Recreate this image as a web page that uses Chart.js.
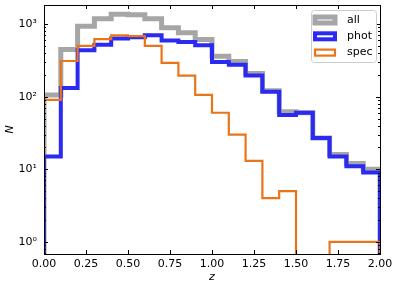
<!DOCTYPE html>
<html lang="en">
<head>
    <meta charset="UTF-8">
    <title>Redshift distribution</title>
    <script src="https://cdn.jsdelivr.net/npm/chart.js"></script>
    <style>
        body {
            margin: 0;
            background-color: #fff;
        }
    </style>
</head>
<body>
    <canvas id="zHist" width="397" height="286"></canvas>

    <script>
        // bin edges in z (20 bins)
        const zEdges = [0.0, 0.1, 0.2, 0.3, 0.4, 0.5, 0.6, 0.7, 0.8, 0.9, 1.0,
                        1.1, 1.2, 1.3, 1.4, 1.5, 1.6, 1.7, 1.8, 1.9, 2.0];

        // counts per bin
        const allCounts  = [105, 445, 930, 1180, 1360, 1340, 1180, 890, 760, 615,
                            360, 305, 208, 121, 62, 60, 27, 16, 12, 10];
        const photCounts = [15, 132, 435, 520, 630, 660, 700, 595, 565, 510,
                            300, 275, 195, 117, 56, 60, 27, 15, 11, 9];
        const specCounts = [90, 310, 500, 620, 700, 680, 500, 292, 195, 106,
                            60, 30, 13, 4, 5, 0, 0, 1, 1, 1];

        const xTickValues = [0, 0.25, 0.5, 0.75, 1.0, 1.25, 1.5, 1.75, 2.0];
        const yTickValues = [1, 10, 100, 1000];

        const FONT = 'DejaVu Sans';
        const SUP = { '0': '⁰', '1': '¹', '2': '²', '3': '³' };
        // empty bins are sent below the axis so they fall out of view (as in a log plot)
        const BELOW_AXIS = 0.1;

        // outline of a step histogram: up from the floor at the first edge, down at the last
        function stepOutline(counts) {
            const pts = [{ x: zEdges[0], y: BELOW_AXIS }];
            counts.forEach((c, i) => {
                pts.push({ x: zEdges[i], y: c > 0 ? c : BELOW_AXIS });
            });
            const last = counts[counts.length - 1];
            pts.push({ x: zEdges[zEdges.length - 1], y: last > 0 ? last : BELOW_AXIS });
            pts.push({ x: zEdges[zEdges.length - 1], y: BELOW_AXIS });
            return pts;
        }

        function histSet(label, counts, color, width, order) {
            return {
                label: label,
                data: stepOutline(counts),
                borderColor: color,
                borderWidth: width,
                stepped: 'before',
                pointRadius: 0,
                fill: false,
                borderJoinStyle: 'miter',
                borderCapStyle: 'butt',
                clip: 0,
                order: order
            };
        }

        // black frame with inward ticks on all four sides
        const frameTicks = {
            id: 'frameTicks',
            afterDatasetsDraw(chart) {
                const { ctx, chartArea: a, scales: { x, y } } = chart;
                ctx.save();
                ctx.strokeStyle = '#000';
                ctx.lineWidth = 1;
                ctx.beginPath();
                xTickValues.forEach(v => {
                    const px = Math.round(x.getPixelForValue(v)) + 0.5;
                    ctx.moveTo(px, a.bottom); ctx.lineTo(px, a.bottom - 4);
                    ctx.moveTo(px, a.top); ctx.lineTo(px, a.top + 4);
                });
                [0.1, 1, 10, 100, 1000].forEach(d => {
                    for (let m = 1; m <= 9; m++) {
                        const v = m * d;
                        if (v < y.min || v > y.max) continue;
                        const len = m === 1 ? 4 : 2;
                        const py = Math.round(y.getPixelForValue(v)) + 0.5;
                        ctx.moveTo(a.left, py); ctx.lineTo(a.left + len, py);
                        ctx.moveTo(a.right, py); ctx.lineTo(a.right - len, py);
                    }
                });
                ctx.stroke();
                ctx.strokeRect(Math.round(a.left) + 0.5, Math.round(a.top) + 0.5,
                               Math.round(a.right - a.left), Math.round(a.bottom - a.top));
                ctx.restore();
            }
        };

        // legend box in the upper right corner of the axes
        const cornerLegend = {
            id: 'cornerLegend',
            afterDraw(chart) {
                const { ctx, chartArea: a } = chart;
                const boxX = a.right - 69, boxY = a.top + 5, boxW = 65, boxH = 52;
                ctx.save();
                ctx.fillStyle = 'rgba(255,255,255,0.8)';
                ctx.strokeStyle = '#cccccc';
                ctx.lineWidth = 1;
                ctx.beginPath();
                ctx.roundRect(boxX + 0.5, boxY + 0.5, boxW, boxH, 3);
                ctx.fill();
                ctx.stroke();
                ctx.font = '11px "' + FONT + '"';
                ctx.textBaseline = 'middle';
                ctx.fillStyle = '#000';
                chart.data.datasets.forEach((ds, i) => {
                    const cy = boxY + 10 + i * 16.3;
                    ctx.strokeStyle = ds.borderColor;
                    ctx.lineWidth = ds.borderWidth;
                    ctx.lineJoin = 'miter';
                    ctx.strokeRect(boxX + 4, cy - 3, 20, 6);
                    ctx.fillText(ds.label, boxX + 36, cy);
                });
                ctx.restore();
            }
        };

        const ctx = document.getElementById('zHist').getContext('2d');
        const chart = new Chart(ctx, {
            type: 'line',
            data: {
                datasets: [
                    histSet('all', allCounts, '#a6a6a6', 5, 3),
                    histSet('phot', photCounts, '#2a2af2', 4, 2),
                    histSet('spec', specCounts, '#e8751a', 2.2, 1)
                ]
            },
            options: {
                responsive: false,
                animation: false,
                layout: { padding: { top: 5, right: 17, left: 0, bottom: 0 } },
                plugins: {
                    legend: { display: false },
                    tooltip: { enabled: false }
                },
                scales: {
                    x: {
                        type: 'linear',
                        min: 0,
                        max: 2,
                        afterBuildTicks: s => { s.ticks = xTickValues.map(v => ({ value: v })); },
                        afterFit: s => { s.height = 32; s.paddingLeft = 0; s.paddingRight = 0; },
                        grid: { display: false, drawTicks: false },
                        border: { display: false },
                        ticks: {
                            color: '#000',
                            font: { family: FONT, size: 11 },
                            padding: 4,
                            maxRotation: 0,
                            autoSkip: false,
                            callback: v => Number(v).toFixed(2)
                        },
                        title: {
                            display: true,
                            text: 'z',
                            color: '#000',
                            font: { family: FONT, size: 11, style: 'italic' },
                            padding: { top: 0, bottom: 2 }
                        }
                    },
                    y: {
                        type: 'logarithmic',
                        min: 0.68,
                        max: 1830,
                        afterBuildTicks: s => { s.ticks = yTickValues.map(v => ({ value: v })); },
                        afterFit: s => { s.width = 44; s.paddingTop = 0; s.paddingBottom = 0; },
                        grid: { display: false, drawTicks: false },
                        border: { display: false },
                        ticks: {
                            color: '#000',
                            font: { family: FONT, size: 11 },
                            padding: 7,
                            autoSkip: false,
                            callback: v => '10' + SUP[String(Math.round(Math.log10(v)))]
                        },
                        title: {
                            display: true,
                            text: 'N',
                            color: '#000',
                            font: { family: FONT, size: 11, style: 'italic' },
                            padding: { top: 4, bottom: 0 }
                        }
                    }
                }
            },
            plugins: [frameTicks, cornerLegend]
        });
    </script>
</body>
</html>
